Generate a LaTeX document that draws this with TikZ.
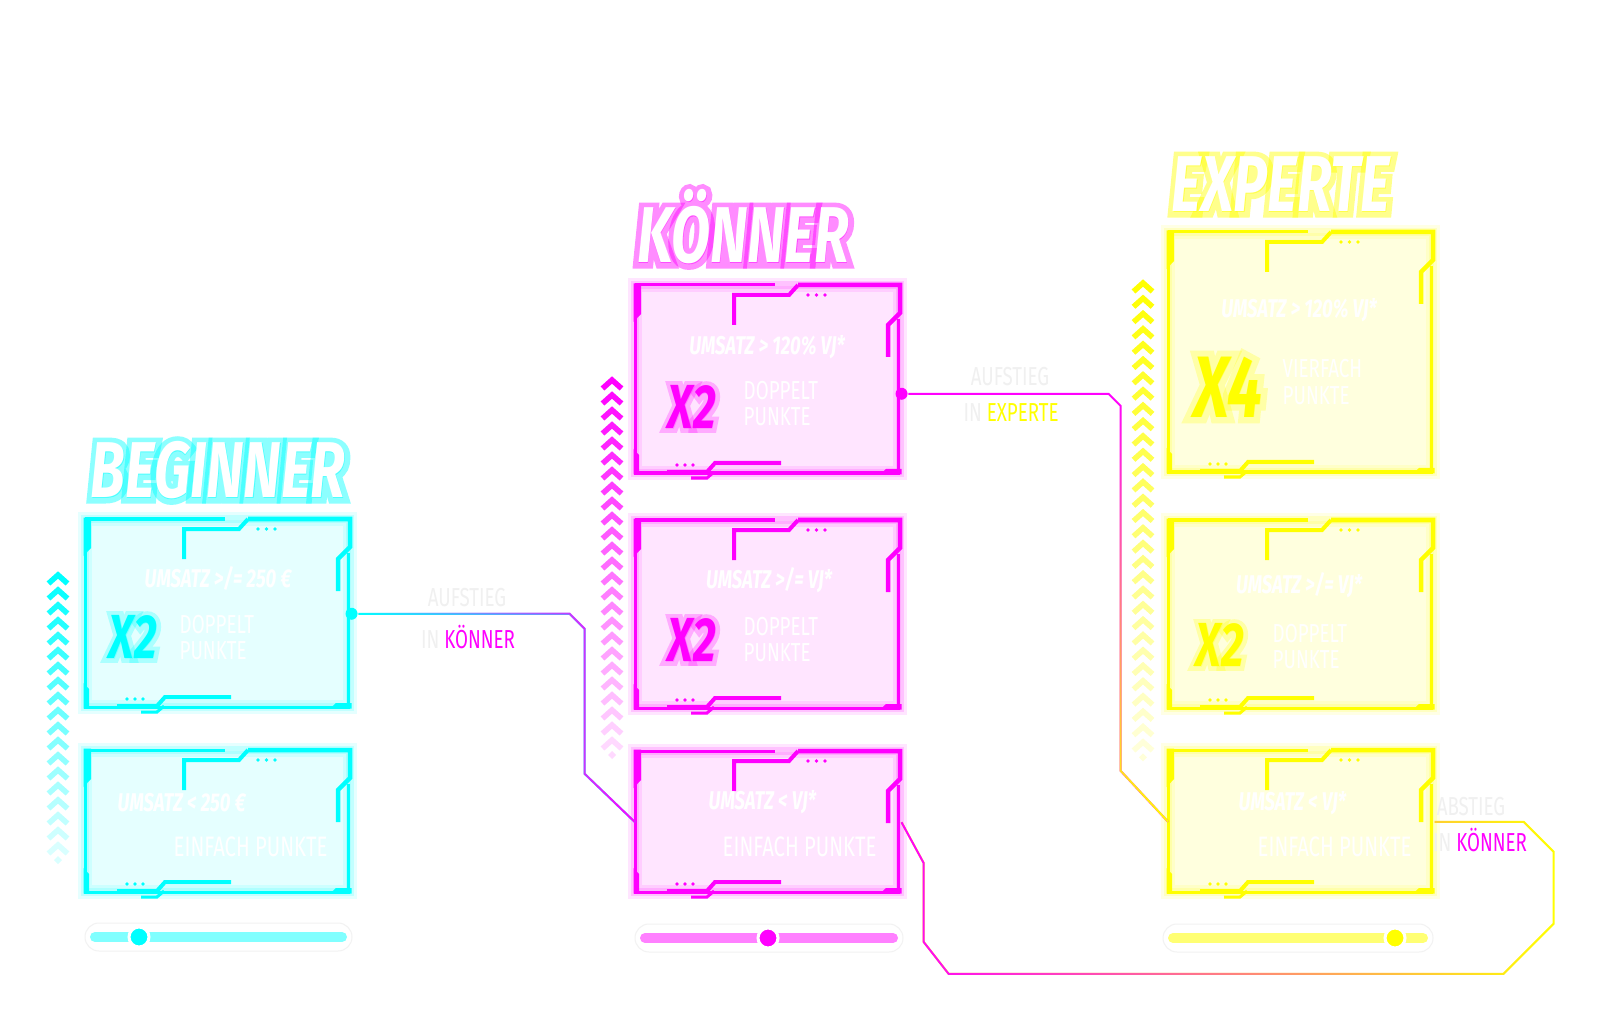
\documentclass[tikz,border=0pt]{standalone}
\usepackage{fontspec}
\newfontfamily\hudhead[FakeStretch=0.72]{Fira Sans}
\newfontfamily\hudglow[FakeStretch=0.72, FakeBold=14]{Fira Sans}
\newfontfamily\hudtext[FakeStretch=0.72]{Fira Sans}
\usetikzlibrary{fadings}
\tikzfading[name=fadeleft, left color=transparent!0, right color=transparent!100]
\tikzfading[name=faderight, left color=transparent!100, right color=transparent!0]
\tikzfading[name=fadedown, top color=transparent!100, bottom color=transparent!0]
\definecolor{hudcyan}{RGB}{0,255,255}
\definecolor{hudpink}{RGB}{255,0,255}
\definecolor{hudyellow}{RGB}{255,255,0}
\definecolor{ghost}{gray}{0.94}

\begin{document}
\begin{tikzpicture}[
        x = 0.01cm, y = -0.01cm,
        title/.style = {
            text = white,
            font = \hudhead\bfseries\itshape\fontsize{22.5}{24}\selectfont,
            inner sep = 0pt,
            anchor = base
        },
        titleglow/.style = {
            title,
            font = \hudglow\bfseries\itshape\fontsize{22.5}{24}\selectfont,
            text = #1,
            opacity = 0.45
        },
        box/.style 2 args = {
            fill = #1,
            minimum width = 2.65cm,
            minimum height = #2,
            inner sep = 0pt,
            anchor = north west
        },
        umsatz/.style = {
            text = white,
            font = \hudtext\bfseries\itshape\fontsize{7.3}{8}\selectfont,
            inner sep = 0pt
        },
        factor/.style = {
            text = #1,
            font = \hudhead\bfseries\itshape\fontsize{17.7}{18}\selectfont,
            inner sep = 0pt
        },
        punkte/.style = {
            text = white,
            font = \hudtext\fontsize{7.4}{7.4}\selectfont,
            align = left,
            inner sep = 0pt,
            anchor = west
        },
        einfach/.style = {
            text = white,
            font = \hudtext\fontsize{8}{8}\selectfont,
            inner sep = 0pt,
            anchor = west
        },
        linklabel/.style = {
            text = ghost,
            font = \hudtext\fontsize{7.4}{8}\selectfont,
            inner sep = 0pt
        },
        dot/.style = {
            circle,
            fill = #1,
            minimum size = 0.12cm,
            inner sep = 0pt
        },
        knob/.style = {
            circle,
            fill = #1,
            draw = white,
            line width = 0.03cm,
            minimum size = 0.2cm,
            inner sep = 0pt
        },
        link/.style n args = {3}{
            draw = #1,
            line width = 0.02cm,
            postaction = {draw = #2, line width = 0.02cm, path fading = #3}
        },
        pics/hudframe/.style 2 args = {code = {
            \draw[#1, opacity=0.1, line width=0.14cm] (0,0) rectangle (265,#2);
            \draw[#1, opacity=0.15, line width=0.08cm] (0,0) rectangle (265,#2);
            \draw[#1, line width=0.03cm] (0,0) -- (140,0);
            \draw[#1, line width=0.03cm] (0,0) -- (0,#2) -- (265,#2);
            \draw[#1, line width=0.025cm] (263.5,34) -- (263.5,#2);
            \fill[#1] (-1.5,-1.5) -- (6,-1.5) -- (6,29) -- (-1.5,37) -- cycle;
            \fill[#1] (-1.5,#2-24) -- (4,#2-18) -- (4,#2+1.5) -- (-1.5,#2+1.5) -- cycle;
            \fill[#1] (245,#2+1.5) -- (251,#2-4) -- (266.5,#2-4) -- (266.5,#2+1.5) -- cycle;
            \draw[#1, line width=0.045cm] (163,0) -- (265,0) -- (265,28) -- (253,40) -- (253,72);
            \draw[#1, line width=0.04cm] (99,40) -- (99,10) -- (154,10) -- (163,0);
            \draw[#1, line width=0.04cm] (32,#2-1) -- (72,#2-1) -- (80,#2-10) -- (146,#2-10);
            \draw[#1, line width=0.03cm] (56,#2+5) -- (72,#2+5) -- (79,#2-1);
            \foreach \dx in {173,181.5,190} \fill[#1] (\dx,10) circle (1.8);
            \foreach \dx in {42,50,58} \fill[#1] (\dx,#2-8) circle (1.8);
        }}
        ]
        \fill[white] (0,0) rectangle (1598,1019);
        \useasboundingbox (0,0) rectangle (1598,1019);
%
% chevrons
        \foreach \cx/\cy/\n/\dy/\c in {58/575/18/15/hudcyan, 612/380/24/15/hudpink, 1143/283/30/15.3/hudyellow}{
            \foreach \i in {0,...,\n}{
                \pgfmathsetmacro\op{1-0.85*\i/\n}
                \draw[\c, line width=0.055cm, opacity=\op] (\cx-9.5,{\cy+\dy*\i+8.5}) -- (\cx,{\cy+\dy*\i}) -- (\cx+9.5,{\cy+\dy*\i+8.5});
            }
            \fill[\c, opacity=0.15] (\cx,{\cy+\dy*(\n+1)-4}) -- (\cx+4,{\cy+\dy*(\n+1)}) -- (\cx,{\cy+\dy*(\n+1)+4}) -- (\cx-4,{\cy+\dy*(\n+1)}) -- cycle;
        }
%
% titles
        \node[titleglow=hudcyan] (tbg) at (218,498) {BEGINNER};
        \node[titleglow=hudpink] (tkg) at (743,263) {KÖNNER};
        \node[titleglow=hudyellow] (teg) at (1281,212) {EXPERTE};
        \node[title] (tb) at (218,498) {BEGINNER};
        \node[title] (tk) at (743,263) {KÖNNER};
        \node[title] (te) at (1281,212) {EXPERTE};
%
% boxes
        \node[box={hudcyan!10}{1.88cm}] (b1) at (85,519) {};
        \node[box={hudcyan!10}{1.42cm}] (b2) at (85,750) {};
        \node[box={hudpink!10}{1.88cm}] (k1) at (635,285) {};
        \node[box={hudpink!10}{1.88cm}] (k2) at (635,520) {};
        \node[box={hudpink!10}{1.41cm}] (k3) at (635,751) {};
        \node[box={hudyellow!13}{2.40cm}] (e1) at (1168,232) {};
        \node[box={hudyellow!13}{1.88cm}] (e2) at (1168,520) {};
        \node[box={hudyellow!13}{1.42cm}] (e3) at (1168,750) {};
%
        \pic at (b1.north west) {hudframe={hudcyan}{188}};
        \pic at (b2.north west) {hudframe={hudcyan}{142}};
        \pic at (k1.north west) {hudframe={hudpink}{188}};
        \pic at (k2.north west) {hudframe={hudpink}{188}};
        \pic at (k3.north west) {hudframe={hudpink}{141}};
        \pic at (e1.north west) {hudframe={hudyellow}{240}};
        \pic at (e2.north west) {hudframe={hudyellow}{188}};
        \pic at (e3.north west) {hudframe={hudyellow}{142}};
%
% box texts
        \node[umsatz] (b1u) at (218,578) {UMSATZ >/= 250 €};
        \node[punkte] (b1p) at (179,638) {DOPPELT\\PUNKTE};
        \node[umsatz, anchor=west] (b2u) at (117,803) {UMSATZ < 250 €};
        \node[einfach] (b2p) at (173,847) {EINFACH PUNKTE};
%
        \node[umsatz] (k1u) at (767,347) {UMSATZ > 120\% VJ*};
        \node[punkte] (k1p) at (743,404) {DOPPELT\\PUNKTE};
        \node[umsatz] (k2u) at (769,580) {UMSATZ >/= VJ*};
        \node[punkte] (k2p) at (743,640) {DOPPELT\\PUNKTE};
        \node[umsatz, anchor=west] (k3u) at (708,802) {UMSATZ < VJ*};
        \node[einfach] (k3p) at (722,847) {EINFACH PUNKTE};
%
        \node[umsatz] (e1u) at (1299,310) {UMSATZ > 120\% VJ*};
        \node[punkte, font=\hudtext\fontsize{7.4}{7.7}\selectfont] (e1p) at (1282,382) {VIERFACH\\PUNKTE};
        \node[umsatz] (e2u) at (1299,585) {UMSATZ >/= VJ*};
        \node[punkte] (e2p) at (1272,647) {DOPPELT\\PUNKTE};
        \node[umsatz, anchor=west] (e3u) at (1238,803) {UMSATZ < VJ*};
        \node[einfach] (e3p) at (1257,847) {EINFACH PUNKTE};
%
% factors
        \foreach \nm/\px/\py/\c/\t in {b1x/133/637/hudcyan/X2, k1x/692/407/hudpink/X2, k2x/692/640/hudpink/X2, e2x/1220/645/hudyellow/X2}{
            \node[factor=\c, font=\hudglow\bfseries\itshape\fontsize{17.7}{18}\selectfont, opacity=0.25] (\nm g) at (\px,\py) {\t};
            \node[factor=\c] (\nm) at (\px,\py) {\t};
        }
        \node[factor=hudyellow, font=\hudglow\bfseries\itshape\fontsize{24.8}{26}\selectfont, opacity=0.25] (e1xg) at (1228,387) {X4};
        \node[factor=hudyellow, font=\hudhead\bfseries\itshape\fontsize{24.8}{26}\selectfont] (e1x) at (1228,387) {X4};
%
% sliders
        \draw[black!5, line width=0.01cm, rounded corners=0.14cm] (85,923) rectangle (352,951);
        \draw[black!5, line width=0.01cm, rounded corners=0.14cm] (635,924) rectangle (903,952);
        \draw[black!5, line width=0.01cm, rounded corners=0.14cm] (1163,924) rectangle (1433,952);
        \draw[hudcyan!50, line width=0.1cm, line cap=round] (95,937) -- (342,937);
        \draw[hudpink!50, line width=0.1cm, line cap=round] (645,938) -- (893,938);
        \draw[hudyellow!55, line width=0.1cm, line cap=round] (1173,938) -- (1423,938);
        \node[knob=hudcyan] (s1) at (139,937) {};
        \node[knob=hudpink] (s2) at (768,938) {};
        \node[knob=hudyellow] (s3) at (1395,938) {};
%
% connectors
        \node[dot=hudcyan] (d1) at (b1.east) {};
        \node[dot=hudpink] (d2) at ([yshift=-0.14cm]k1.east) {};
%
        \draw[link={hudcyan}{hudpink}{faderight}] (d1) -- ++(218,0) -- ++(15,15) -- ++(0,145) -- (k3.west);
        \draw[link={hudpink}{hudyellow}{fadedown}] (d2) -- ++(207,0) -- ++(12,12) -- ++(0,365) -- (e3.west);
        \draw[link={hudyellow}{hudpink}{fadeleft}] (e3.east) -- ++(89,0) -- ++(30,30) -- ++(0,72) -- ++(-50,50) -- ++(-555,0) -- ++(-25,-32) -- ++(0,-79) -- (k3.east);
%
        \node[linklabel] (l1a) at (467,598) {AUFSTIEG};
        \node[linklabel] (l1b) at (468,637) {IN \textcolor{hudpink}{KÖNNER}};
        \node[linklabel] (l2a) at (1010,377) {AUFSTIEG};
        \node[linklabel] (l2b) at (1011,413) {IN \textcolor{hudyellow}{EXPERTE}};
        \node[linklabel] (l3a) at (1471,807) {ABSTIEG};
        \node[linklabel] (l3b) at (1480,840) {IN \textcolor{hudpink}{KÖNNER}};
    \end{tikzpicture}
\end{document}
